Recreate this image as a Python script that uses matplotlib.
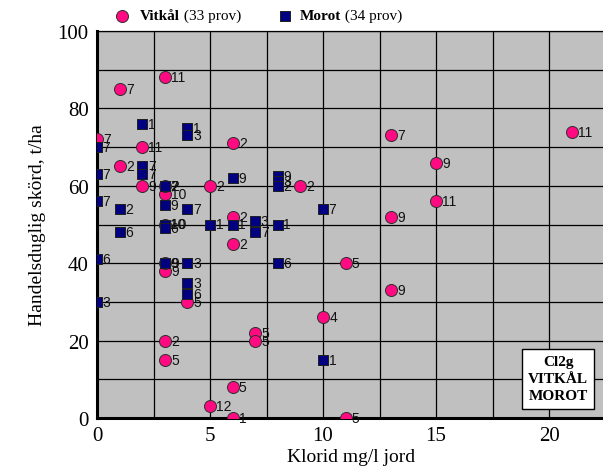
import numpy as np
from matplotlib import pyplot as plt

# Vitkål (pink circles): klorid, skörd, label
vit_x = [0, 1, 3, 2, 1, 2, 3, 5, 6, 6, 6, 9, 3, 4, 11, 10, 7, 7, 3, 3, 6, 5, 6, 11,
         13, 21, 15, 15, 13, 13, 3, 3, 3]
vit_y = [72, 85, 88, 70, 65, 60, 58, 60, 71, 52, 45, 60, 38, 30, 40, 26, 22, 20, 20, 15, 8, 3, 0, 0,
         73, 74, 66, 56, 52, 33, 60, 50, 40]
vit_lab = ["7", "7", "11", "11", "2", "9", "10", "2", "2", "2", "2", "2", "9", "5", "5", "4", "5", "5", "2", "5",
           "5", "12", "1", "5", "7", "11", "9", "11", "9", "9", "2", "10", "9"]

# Morot (navy squares)
mor_x = [0, 0, 0, 0, 0, 2, 4, 4, 2, 2, 3, 3, 3, 4, 1, 1, 3, 3, 5, 6, 6, 8, 8, 8,
         7, 7, 8, 8, 10, 3, 4, 4, 4, 10]
mor_y = [70, 63, 56, 41, 30, 76, 75, 73, 65, 63, 60, 60, 55, 54, 54, 48, 50, 49, 50, 50, 62, 62.5, 61.3, 60,
         51, 48, 50, 40, 54, 40, 40, 35, 32, 15]
mor_lab = ["7", "7", "7", "6", "3", "1", "1", "3", "7", "7", "7", "2", "9", "7", "2", "6", "10", "6", "1", "1",
           "9", "9", "3", "2", "3", "7", "1", "6", "7", "9", "3", "3", "6", "1"]

x_ticks = [0, 5, 10, 15, 20]
y_ticks = [0, 20, 40, 60, 80, 100]

pink = "#ff0a80"
navy = "#000080"
serif = "Liberation Serif"
sans = "Liberation Sans"

fig = plt.figure(figsize=(6.03, 4.77), dpi=100)
ax = fig.add_axes([97 / 603, 1 - 419 / 477, 22.5 * 22.6 / 603, (419 - 32) / 477])
ax.set_facecolor("#c0c0c0")
ax.set_xlim(0, 22.5)
ax.set_ylim(0, 100)

# grid every 2.5 in x and 10 in y
ax.set_xticks(x_ticks)
ax.set_yticks(y_ticks)
ax.set_xticks(np.arange(2.5, 22.6, 5), minor=True)
ax.set_yticks(np.arange(10, 101, 20), minor=True)
ax.grid(True, which="both", color="black", linewidth=0.9)
ax.set_axisbelow(True)

ax.set_xticklabels([str(t) for t in x_ticks], fontsize=15, family=serif)
ax.set_yticklabels([str(t) for t in y_ticks], fontsize=15, family=serif)
ax.tick_params(which="both", length=0, pad=6)

for side in ["left", "bottom"]:
    ax.spines[side].set_linewidth(2.2)
ax.spines["top"].set_linewidth(0.9)
ax.spines["right"].set_visible(False)

ax.scatter(vit_x, vit_y, s=75, marker="o", facecolor=pink, edgecolor="#303030", linewidth=0.7, zorder=3)
for x, y, t in zip(vit_x, vit_y, vit_lab):
    ax.annotate(t, (x, y), xytext=(4.5, 0), textcoords="offset points", va="center", ha="left",
                fontsize=10, family=sans, color="#111111", zorder=4, annotation_clip=False)

ax.scatter(mor_x, mor_y, s=55, marker="s", facecolor=navy, edgecolor="#202020", linewidth=0.7, zorder=5)
for x, y, t in zip(mor_x, mor_y, mor_lab):
    ax.annotate(t, (x, y), xytext=(4, 0), textcoords="offset points", va="center", ha="left",
                fontsize=10, family=sans, color="#111111", zorder=6, annotation_clip=False)

ax.set_xlabel("Klorid mg/l jord", fontsize=14, family=serif, labelpad=2)
ax.set_ylabel("Handelsduglig skörd, t/ha", fontsize=14, family=serif, labelpad=8)

# legend above the plot
ax.scatter([0.05], [1.04], s=75, marker="o", facecolor=pink, edgecolor="#303030", linewidth=0.7,
           transform=ax.transAxes, clip_on=False)
t1 = ax.text(0.084, 1.04, "Vitkål", transform=ax.transAxes, fontsize=11, family=serif,
             fontweight="bold", va="center")
ax.annotate(" (33 prov)", xy=(1, 0.5), xycoords=t1, va="center", fontsize=11, family=serif)
ax.scatter([0.37], [1.04], s=45, marker="s", facecolor=navy, edgecolor="#202020", linewidth=0.7,
           transform=ax.transAxes, clip_on=False)
t2 = ax.text(0.398, 1.04, "Morot", transform=ax.transAxes, fontsize=11, family=serif,
             fontweight="bold", va="center")
ax.annotate(" (34 prov)", xy=(1, 0.5), xycoords=t2, va="center", fontsize=11, family=serif)

fig.text(558 / 603, 1 - 380 / 477, "Cl2g\nVITKÅL\nMOROT", ha="center", va="center", fontsize=11,
         family=serif, fontweight="bold", linespacing=1.4,
         bbox=dict(boxstyle="square,pad=0.4", facecolor="white", edgecolor="black", linewidth=1))

fig.savefig("out.png", dpi=100)
